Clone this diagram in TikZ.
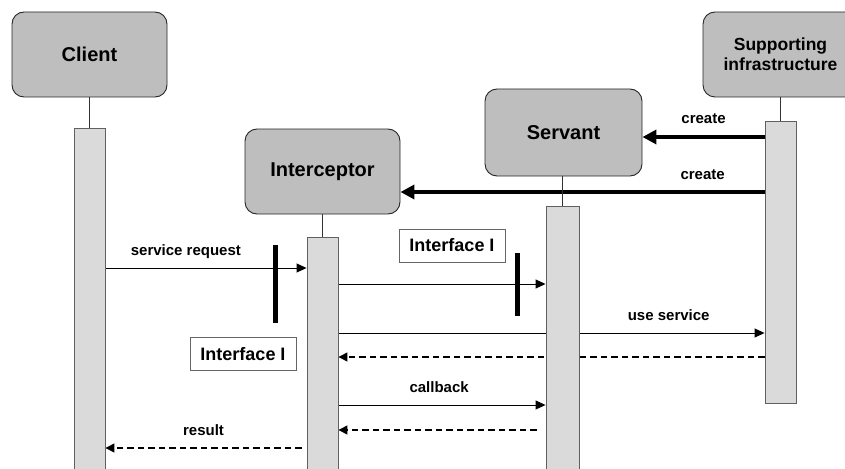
\documentclass[tikz,border=0pt]{standalone}
\usepackage{fontspec}
\setmainfont{Liberation Sans}
\usetikzlibrary{arrows.meta,calc,backgrounds}

\definecolor{boxfill}{HTML}{BEBEBE}
\definecolor{actfill}{HTML}{DADADA}
\definecolor{actline}{HTML}{606060}

\begin{document}
\begin{tikzpicture}[x=1pt,y=-1pt,
  role/.style={draw=black!85, fill=boxfill, rounded corners=12pt, line width=0.9pt,
    minimum width=155pt, minimum height=85pt, align=center, inner sep=0pt,
    font=\bfseries\fontsize{20}{22}\selectfont},
  act/.style={draw=actline, fill=actfill, line width=0.9pt, minimum width=31pt,
    anchor=north, inner sep=0pt},
  life/.style={line width=0.8pt, draw=black!80},
  msg/.style={line width=0.9pt, -{Triangle[length=10pt,width=9pt]}},
  reply/.style={line width=1.4pt, dash pattern=on 6.5pt off 4pt,
    -{Triangle[length=9pt,width=9pt]}},
  create/.style={line width=3.5pt, -{Triangle[length=14pt,width=14pt]}},
  lbl/.style={font=\bfseries\fontsize{15}{17}\selectfont, inner sep=0pt, anchor=base, yshift=13pt},
  iface/.style={draw=black!60, fill=white, line width=0.8pt, inner sep=0pt,
    minimum width=106pt, minimum height=33pt, font=\bfseries\fontsize{18}{20}\selectfont},
  bar/.style={line width=5pt}
]
\useasboundingbox (0,0) rectangle (845,468);
\clip (0,0) rectangle (845,468);

% participants
\node[role] (client) at (89.5,54.5) {Client};
\node[role] (inter) at (322.5,171.5) {Interceptor};
\node[role, minimum width=157pt, minimum height=87pt] (servant) at (563.5,132.5) {Servant};
\node[role, font=\bfseries\fontsize{17.5}{20}\selectfont] (infra) at (780.5,54.5) {Supporting\\infrastructure};

% activation bars
\node[act, minimum height=360pt] (cliAct) at (89.5,128) {};
\node[act, minimum height=250pt] (intAct) at (322.5,237) {};
\node[act, minimum width=33pt, minimum height=280pt] (servAct) at (562.5,206) {};
\node[act, minimum height=282pt] (infAct) at (780.5,121) {};

% lifelines
\draw[life] (client.south) -- (cliAct.north);
\draw[life] (inter.south) -- (intAct.north);
\draw[life] (servant.south -| servAct.north) -- (servAct.north);
\draw[life] (infra.south) -- (infAct.north);

% message levels
\coordinate (yC1) at (0,137);
\coordinate (yC2) at (0,192);
\coordinate (yReq) at (0,268);
\coordinate (yFwd) at (0,284);
\coordinate (yUse) at (0,333);
\coordinate (yUseR) at (0,357);
\coordinate (yCb) at (0,405);
\coordinate (yCbR) at (0,430);
\coordinate (yRes) at (0,448);

\begin{scope}[on background layer]
  \draw[create] (infAct.west |- yC1) -- (servant.east |- yC1)
    node[lbl, midway] {create};
  \draw[create] (infAct.west |- yC2) -- (inter.east |- yC2)
    node[lbl, pos=0.17] {create};
  \draw[msg] (cliAct.east |- yReq) -- (intAct.west |- yReq)
    node[lbl, pos=0.40] {service request};
  \draw[msg] (intAct.east |- yFwd) -- (servAct.west |- yFwd);
  \draw[msg] (intAct.east |- yUse) -- (infAct.west |- yUse)
    node[lbl, pos=0.775] {use service};
  \draw[reply] (infAct.west |- yUseR) -- (intAct.east |- yUseR);
  \draw[msg] (intAct.east |- yCb) -- (servAct.west |- yCb)
    node[lbl, pos=0.486] {callback};
  \draw[reply] ($(servAct.west |- yCbR)+(-9,0)$) -- (intAct.east |- yCbR);
  \draw[reply] ($(intAct.west |- yRes)+(-5,0)$) -- (cliAct.east |- yRes)
    node[lbl, midway] {result};
\end{scope}

% interface markers
\coordinate (barA) at (275,245);
\coordinate (barB) at (517,253);
\draw[bar] (barA) -- ++(0,78);
\draw[bar] (barB) -- ++(0,63);
\node[iface] (ifaceUp) at (452,245.5) {Interface I};
\node[iface] (ifaceLow) at (243,354) {Interface I};
\end{tikzpicture}
\end{document}
